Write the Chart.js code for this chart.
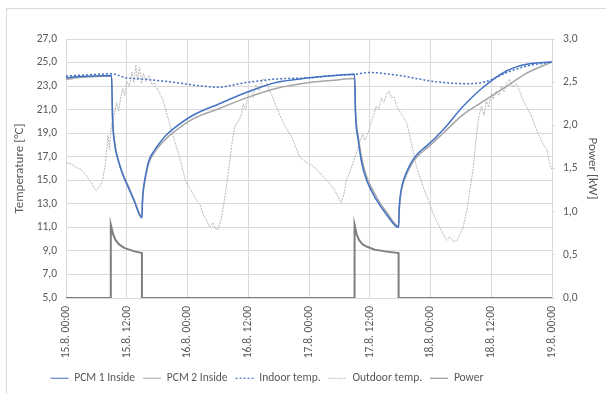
<!DOCTYPE html>
<html lang="en">
<head>
    <meta charset="UTF-8">
    <title>PCM temperatures</title>
    <style>
        body {
            margin: 0;
            background-color: #fff;
        }
        .chart-box {
            width: 606px;
            height: 394px;
        }
    </style>
    <script src="https://cdn.jsdelivr.net/npm/chart.js"></script>
</head>
<body>
    <div class="chart-box">
        <canvas id="tempChart" width="606" height="394"></canvas>
    </div>
    <script>
        // x values are hours since 15.8. 00:00
        const xLabels = ['15.8. 00:00', '15.8. 12:00', '16.8. 00:00', '16.8. 12:00', '17.8. 00:00',
                         '17.8. 12:00', '18.8. 00:00', '18.8. 12:00', '19.8. 00:00'];
        const tempTicks = [5, 7, 9, 11, 13, 15, 17, 19, 21, 23, 25, 27];
        const powerTicks = [0, 0.5, 1, 1.5, 2, 2.5, 3];

        const pcmHours = [0, 2, 5, 9.0, 9.2, 9.6, 10.3, 11.2, 12.3, 13.5, 15.0, 15.1, 15.3, 15.7, 16.4, 17.4,
                          18.4, 19.7, 21.0, 25.0, 30.3, 35.6, 41.5, 48.1, 53, 57.0, 57.2, 57.7, 58.4, 59.3,
                          61.3, 63.3, 65.7, 65.8, 66.0, 66.4, 66.9, 67.7, 68.6, 69.8, 71.2, 74.5, 78.5, 82.4,
                          87.1, 91.0, 96];
        const pcm1Temp = [23.7, 23.8, 23.85, 23.9, 20.2, 18.1, 16.7, 15.5, 14.4, 13.2, 11.8, 13.2, 14.3, 15.4,
                          16.7, 17.5, 18.1, 18.8, 19.3, 20.5, 21.5, 22.45, 23.3, 23.7, 23.9, 24.0, 20.5, 18.5,
                          16.5, 15.1, 13.35, 12.1, 11.0, 12.4, 13.6, 14.6, 15.3, 16.1, 16.8, 17.4, 17.9, 19.3,
                          21.3, 22.9, 24.3, 24.85, 25.05];
        const pcm2Temp = [23.55, 23.7, 23.8, 23.85, 20.4, 18.3, 16.8, 15.6, 14.5, 13.3, 11.9, 13.1, 14.1, 15.2,
                          16.5, 17.3, 17.9, 18.5, 19.0, 20.2, 21.1, 22.0, 22.8, 23.3, 23.5, 23.65, 20.8, 18.8,
                          16.9, 15.4, 13.6, 12.3, 11.1, 12.3, 13.4, 14.4, 15.1, 15.9, 16.6, 17.2, 17.7, 19.0,
                          20.6, 21.7, 23.0, 24.1, 25.05];

        const indoorHours = [0, 4, 9, 11.8, 15, 21.7, 26, 30.3, 33, 35.6, 41.5, 48.1, 53, 57, 60, 65.9,
                             72.5, 79.1, 83.1, 87.1, 91, 96];
        const indoorTemp = [23.85, 23.95, 24.05, 23.7, 23.6, 23.3, 23.05, 22.9, 23.1, 23.3, 23.6, 23.7, 23.9,
                            24.0, 24.15, 23.9, 23.4, 23.2, 23.4, 24.15, 24.7, 25.05];

        const outdoorHours = [0, 1, 2, 3, 4, 5, 5.9, 6.5, 7.2, 7.8, 8.3, 8.6, 9.0, 9.5, 10.0, 10.4, 10.8, 11.2,
                              11.6, 12.0, 12.5, 13.0, 13.4, 13.8, 14.1, 14.5, 14.9, 15.3, 15.8, 16.4, 17.0, 17.4,
                              18.2, 19.1, 20.4, 21.4, 22.4, 23.7, 24.5, 25.7, 26.5, 27.2, 27.7, 28.4, 29.0, 29.5,
                              30.0, 30.6, 31.3, 32.0, 32.9, 33.4, 34.0, 34.6, 35.0, 35.5, 36.0, 36.6, 37.0, 37.5,
                              38.2, 38.8, 39.5, 40.0, 40.6, 41.5, 43.0, 44.8, 46.1, 47.5, 48.8, 50, 51.4, 53,
                              54.4, 55.0, 55.4, 56.0, 56.7, 57.4, 58.0, 58.6, 59.0, 59.7, 60.3, 60.8, 61.3, 61.8,
                              62.3, 62.8, 63.3, 63.8, 64.3, 64.8, 65.3, 66.3, 67.3, 68.3, 69.2, 70.5, 71.5, 72.5,
                              73.5, 74.3, 75.2, 75.8, 76.5, 77.2, 77.8, 78.5, 79.2, 80.0, 80.4, 81.0, 81.5, 82.1,
                              82.6, 83.0, 83.5, 84.0, 84.4, 85.0, 85.5, 86.0, 86.5, 87.1, 87.6, 88.2, 89.0, 89.6,
                              90.3, 91.0, 91.7, 92.5, 93.2, 93.7, 94.3, 95.0, 95.5, 96.0];
        const outdoorTemp = [16.5, 16.4, 16.1, 15.9, 15.4, 14.8, 14.1, 14.4, 14.9, 16.5, 18.8, 17.6, 19.8, 20.5,
                             21.6, 20.9, 22.0, 22.8, 22.2, 23.4, 23.0, 24.2, 23.3, 24.8, 23.5, 24.6, 23.2, 24.1,
                             23.4, 23.9, 23.1, 23.3, 22.6, 21.9, 19.9, 18.4, 17.05, 14.8, 14.3, 13.35, 12.9, 12.0,
                             11.65, 11.0, 11.4, 10.9, 10.8, 11.6, 13.3, 15.5, 18.5, 19.6, 20.0, 20.5, 21.5, 21.0,
                             22.4, 22.7, 22.0, 23.1, 22.6, 23.6, 23.45, 22.8, 22.3, 21.3, 19.8, 18.5, 17.0, 16.5,
                             16.2, 15.7, 15.06, 14.2, 13.1, 14.0, 15.06, 15.6, 16.5, 17.4, 18.2, 18.9, 18.4, 19.04,
                             20.0, 20.6, 21.3, 21.0, 22.0, 21.6, 22.3, 22.6, 22.0, 22.1, 21.3, 20.6, 19.9, 18.0,
                             16.2, 14.5, 13.4, 12.2, 11.3, 10.6, 9.9, 10.2, 9.8, 9.9, 10.4, 11.1, 12.5, 14.8, 15.9,
                             18.5, 20.3, 21.3, 20.5, 21.8, 21.2, 22.3, 21.9, 22.6, 22.2, 23.0, 22.5, 23.3, 23.6,
                             22.9, 23.2, 22.6, 21.8, 21.2, 20.7, 19.8, 19.0, 18.6, 18.0, 17.6, 16.5, 15.9];

        const powerHours = [0, 8.85, 8.85, 9.3, 9.8, 10.5, 11.5, 12.5, 13.5, 15.0, 15.0, 57.0, 57.0, 57.4, 57.9,
                            58.6, 59.6, 61.0, 63.0, 65.7, 65.7, 96];
        const powerKW = [0, 0, 0.85, 0.74, 0.67, 0.62, 0.58, 0.56, 0.54, 0.52, 0, 0, 0.85, 0.74, 0.67, 0.62,
                         0.59, 0.56, 0.54, 0.52, 0, 0];

        function toPoints(xs, ys) {
            return xs.map((x, i) => ({ x: x, y: ys[i] }));
        }

        const fmt = v => v.toFixed(1).replace('.', ',');
        const textColor = '#595959';
        const gridColor = '#d9d9d9';

        Chart.defaults.font.family = 'Carlito, Lato, sans-serif';
        Chart.defaults.color = textColor;

        // white background + the thin frame Excel puts round the chart
        const chartBorder = {
            id: 'chartBorder',
            afterLayout(chart) {
                // legend sits a bit left of centre in the original
                chart.legend.left -= 36;
                chart.legend.right -= 36;
            },
            beforeDraw(chart) {
                const ctx = chart.ctx;
                ctx.save();
                ctx.fillStyle = '#fff';
                ctx.fillRect(0, 0, chart.width, chart.height);
                ctx.strokeStyle = gridColor;
                ctx.lineWidth = 1;
                ctx.strokeRect(6.5, 8.5, chart.width + 10, chart.height + 10);
                ctx.restore();
            }
        };

        new Chart(document.getElementById('tempChart'), {
            type: 'line',
            data: {
                datasets: [
                    {
                        label: 'PCM 1 Inside',
                        data: toPoints(pcmHours, pcm1Temp),
                        borderColor: '#4472c4',
                        borderWidth: 1.5,
                        cubicInterpolationMode: 'monotone',
                        yAxisID: 'y'
                    },
                    {
                        label: 'PCM 2 Inside',
                        data: toPoints(pcmHours, pcm2Temp),
                        borderColor: '#a5a5a5',
                        borderWidth: 1.5,
                        cubicInterpolationMode: 'monotone',
                        yAxisID: 'y'
                    },
                    {
                        label: 'Indoor temp.',
                        data: toPoints(indoorHours, indoorTemp),
                        borderColor: '#4472c4',
                        borderWidth: 1.5,
                        borderDash: [2, 2],
                        cubicInterpolationMode: 'monotone',
                        yAxisID: 'y'
                    },
                    {
                        label: 'Outdoor temp.',
                        data: toPoints(outdoorHours, outdoorTemp),
                        borderColor: '#b8b8b8',
                        borderWidth: 1,
                        borderDash: [2, 1],
                        yAxisID: 'y'
                    },
                    {
                        label: 'Power',
                        data: toPoints(powerHours, powerKW),
                        borderColor: '#7f7f7f',
                        borderWidth: 2,
                        yAxisID: 'y1'
                    }
                ]
            },
            options: {
                responsive: false,
                animation: false,
                layout: { padding: { left: 0, right: 0, top: 39, bottom: 0 } },
                elements: {
                    point: { radius: 0, hoverRadius: 0, pointStyle: 'line' },
                    line: { tension: 0 }
                },
                plugins: {
                    tooltip: { enabled: false },
                    legend: {
                        position: 'bottom',
                        labels: {
                            usePointStyle: true,
                            pointStyle: 'line',
                            pointStyleWidth: 18,
                            padding: 8,
                            color: textColor,
                            font: { size: 11.5 },
                            generateLabels: chart => {
                                const items = Chart.defaults.plugins.legend.labels.generateLabels(chart);
                                items.forEach(it => {
                                    const ds = chart.data.datasets[it.datasetIndex];
                                    it.lineWidth = 1.2;
                                    it.lineDash = ds.borderDash || [];
                                    it.strokeStyle = ds.borderColor;
                                });
                                return items;
                            }
                        }
                    }
                },
                scales: {
                    x: {
                        type: 'linear',
                        min: 0,
                        max: 96,
                        afterBuildTicks: scale => {
                            scale.ticks = xLabels.map((l, i) => ({ value: i * 12 }));
                        },
                        afterFit: scale => {
                            scale.height = scale.chart.height - 298 - scale.chart.legend.height;
                        },
                        grid: { color: gridColor, drawTicks: false },
                        border: { color: gridColor },
                        ticks: {
                            autoSkip: false,
                            minRotation: 90,
                            maxRotation: 90,
                            padding: 8,
                            font: { size: 11.5 },
                            callback: v => xLabels[Math.round(v / 12)]
                        }
                    },
                    y: {
                        position: 'left',
                        min: 5,
                        max: 27,
                        afterBuildTicks: scale => {
                            scale.ticks = tempTicks.map(v => ({ value: v }));
                        },
                        afterFit: scale => { scale.width = 66; },
                        grid: { color: gridColor, drawTicks: false },
                        border: { display: false },
                        ticks: {
                            padding: 9,
                            font: { size: 11.5 },
                            callback: v => fmt(v)
                        },
                        title: {
                            display: true,
                            text: 'Temperature [°C]',
                            color: textColor,
                            font: { size: 13 },
                            padding: { top: 12, bottom: 0 }
                        }
                    },
                    y1: {
                        position: 'right',
                        min: 0,
                        max: 3,
                        afterBuildTicks: scale => {
                            scale.ticks = powerTicks.map(v => ({ value: v }));
                        },
                        afterFit: scale => { scale.width = 54; },
                        grid: { drawOnChartArea: false, color: gridColor, tickLength: 3 },
                        border: { display: false },
                        ticks: {
                            padding: 8,
                            font: { size: 11.5 },
                            callback: v => fmt(v)
                        },
                        title: {
                            display: true,
                            text: 'Power [kW]',
                            color: textColor,
                            font: { size: 13 },
                            padding: { top: 6, bottom: 0 }
                        }
                    }
                }
            },
            plugins: [chartBorder]
        });
    </script>
</body>
</html>
